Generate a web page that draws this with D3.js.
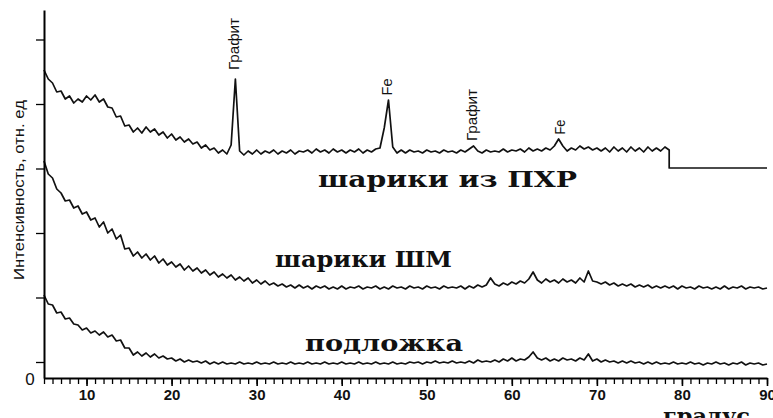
<!DOCTYPE html>
<html>
<head>
<meta charset="utf-8">
<script src="https://cdn.jsdelivr.net/npm/d3@7"></script>
<style>
  html, body { margin: 0; padding: 0; background: #fff; overflow: hidden; }
  svg { display: block; }
</style>
</head>
<body>
<div id="chart"></div>
<script>
// scan: 2theta from 5 deg, step 0.5 deg
const scanStart = 5;
const scanStep = 0.5;

// шарики из ПХР (5 .. 78.5 deg)
const pkhr = [
  308, 299, 295, 286, 287, 279, 282, 275, 279, 276,
  282, 278, 283, 276, 279, 271, 270, 261, 262, 252,
  253, 246, 250, 245, 251, 246, 249, 243, 246, 240,
  244, 238, 241, 236, 239, 234, 236, 230, 233, 228,
  230, 225, 228, 224, 233, 299,
  227, 223, 227, 224, 228, 224, 227, 225, 228, 224,
  227, 225, 228, 224, 227, 226, 228, 225, 229, 226,
  228, 225, 229, 226, 228, 225, 228, 226, 229, 225,
  228, 226, 229, 230, 250, 278,
  231, 225, 228, 225, 228, 226, 227, 225, 228, 226,
  227, 225, 228, 226, 227, 225, 228, 226, 229, 232,
  227, 225, 228, 226, 227, 226, 229, 226, 228, 227,
  229, 226, 230, 227, 229, 227, 230, 228, 232, 239,
  232, 227, 230, 228, 232, 229, 231, 228, 230, 227,
  230, 226, 231, 227, 230, 226, 231, 227, 230, 226,
  231, 227, 230, 227, 231, 228
];
// detector tail after the step at 78.5 deg
const pkhrTailAngles = [78.5, 90];
const pkhrTailValues = [210, 210];

// шарики ШМ (5 .. 90 deg)
const shm = [
  217, 204, 200, 189, 185, 177, 178, 170, 172, 164,
  166, 158, 160, 151, 156, 145, 149, 139, 143, 129,
  130, 122, 126, 120, 124, 118, 122, 115, 119, 113,
  116, 111, 114, 108, 112, 107, 110, 105, 108, 103,
  106, 101, 104, 100, 103, 98, 101, 97, 100, 95,
  98, 94, 97, 93, 95, 92, 94, 91, 93, 90,
  93, 90, 92, 89, 92, 90, 92, 89, 91, 89,
  92, 89, 91, 90, 92, 89, 91, 90, 92, 89,
  91, 89, 92, 90, 91, 89, 92, 90, 91, 89,
  92, 90, 91, 89, 92, 90, 91, 90, 92, 89,
  92, 90, 93, 91, 93, 100, 94, 92, 95, 93,
  96, 94, 97, 95, 99, 106, 98, 95, 99, 96,
  98, 95, 99, 96, 98, 95, 100, 96, 107, 97,
  96, 94, 96, 93, 95, 92, 94, 92, 94, 91,
  93, 91, 93, 90, 92, 90, 92, 90, 92, 89,
  92, 90, 91, 89, 92, 90, 91, 89, 91, 89,
  92, 89, 91, 90, 92, 89, 91, 90, 91, 89,
  90
];

// подложка (5 .. 90 deg)
const substrate = [
  83, 74, 73, 65, 66, 59, 60, 54, 53, 48,
  50, 45, 47, 43, 46, 41, 43, 37, 38, 30,
  30, 23, 26, 22, 25, 21, 24, 20, 22, 19,
  20, 17, 19, 16, 18, 16, 17, 15, 17, 14,
  16, 14, 16, 14, 15, 14, 16, 14, 15, 14,
  16, 14, 15, 14, 16, 14, 15, 14, 16, 14,
  15, 14, 16, 14, 15, 14, 16, 14, 15, 14,
  16, 14, 15, 14, 16, 14, 15, 14, 16, 14,
  15, 14, 16, 14, 15, 14, 16, 15, 16, 14,
  16, 15, 17, 15, 16, 15, 17, 15, 16, 15,
  17, 15, 18, 16, 17, 16, 18, 16, 19, 17,
  20, 17, 19, 18, 21, 26, 20, 18, 20, 17,
  19, 17, 20, 18, 19, 17, 20, 18, 24, 17,
  19, 16, 18, 16, 17, 15, 17, 15, 17, 15,
  16, 14, 16, 14, 16, 14, 15, 14, 16, 14,
  15, 14, 16, 14, 15, 13, 15, 14, 16, 14,
  15, 13, 15, 14, 16, 13, 15, 14, 15, 13,
  14
];

const xMajorTicks = [10, 20, 30, 40, 50, 60, 70, 80, 90];
const yTicks = [16, 80.5, 145, 209.5, 274, 338.5];

const peakNames = ['Графит', 'Fe', 'Графит', 'Fe'];
const peakAngles = [27.3, 45.3, 55.3, 65.6];

const width = 773;
const height = 418;

const svg = d3.select('#chart')
    .append('svg')
    .attr('width', width)
    .attr('height', height);

const x = d3.scaleLinear().domain([5, 90]).range([44, 767]);
const y = d3.scaleLinear().domain([0, 368]).range([378, 10]);

const toPoints = (vals) => vals.map((v, i) => [scanStart + i * scanStep, v]);

const line = d3.line()
    .x((d) => x(d[0]))
    .y((d) => y(d[1]));

const tail = pkhrTailAngles.map((a, i) => [a, pkhrTailValues[i]]);
const series = [
  toPoints(pkhr).concat(tail),
  toPoints(shm),
  toPoints(substrate),
];

svg.selectAll('path.trace')
    .data(series)
    .enter().append('path')
    .attr('class', 'trace')
    .attr('d', line)
    .attr('fill', 'none')
    .attr('stroke', '#111')
    .attr('stroke-width', 1.7)
    .attr('stroke-linejoin', 'round');

// axes
const xMinor = svg.append('g')
    .attr('transform', `translate(0,${y(0)})`)
    .call(d3.axisBottom(x).tickValues(d3.range(5, 91, 1))
        .tickSize(6).tickSizeOuter(0).tickFormat(''));
xMinor.select('.domain').attr('stroke-width', 2);
xMinor.selectAll('.tick line').attr('stroke-width', 1.3);

const xMajor = svg.append('g')
    .attr('transform', `translate(0,${y(0)})`)
    .call(d3.axisBottom(x).tickValues(xMajorTicks)
        .tickSize(8).tickSizeOuter(0).tickPadding(3));
xMajor.select('.domain').remove();
xMajor.selectAll('.tick line').attr('stroke-width', 1.6);
xMajor.selectAll('text')
    .attr('font-family', 'Liberation Sans, Arial, sans-serif')
    .attr('font-weight', 'bold')
    .attr('font-size', 15)
    .attr('fill', '#111');

const yAxis = svg.append('g')
    .attr('transform', `translate(${x(5)},0)`)
    .call(d3.axisLeft(y).tickValues(yTicks)
        .tickSize(8).tickSizeOuter(0).tickFormat(''));
yAxis.select('.domain').attr('stroke-width', 2);
yAxis.selectAll('.tick line').attr('stroke-width', 1.3);

svg.append('text')
    .attr('x', 30).attr('y', 385)
    .attr('text-anchor', 'middle')
    .attr('font-family', 'Liberation Sans, Arial, sans-serif')
    .attr('font-size', 17)
    .attr('fill', '#111')
    .text('0');

svg.append('text')
    .attr('transform', 'translate(19,190) rotate(-90)')
    .attr('text-anchor', 'middle')
    .attr('dy', '0.35em')
    .attr('font-family', 'Liberation Sans Narrow, Liberation Sans, sans-serif')
    .attr('font-size', 15)
    .attr('textLength', 180)
    .attr('lengthAdjust', 'spacingAndGlyphs')
    .attr('fill', '#111')
    .text('Интенсивность, отн. ед');

svg.append('text')
    .attr('x', 663).attr('y', 424)
    .attr('font-family', 'DejaVu Serif, serif')
    .attr('font-weight', 'bold')
    .attr('font-size', 22)
    .attr('textLength', 87)
    .attr('lengthAdjust', 'spacingAndGlyphs')
    .attr('fill', '#111')
    .text('градус');

// sample names
const names = [
  {text: 'шарики  из  ПХР', x: 318, y: 187, len: 259},
  {text: 'шарики  ШМ', x: 275, y: 267, len: 177},
  {text: 'подложка', x: 305, y: 351, len: 158},
];
svg.selectAll('text.name')
    .data(names)
    .enter().append('text')
    .attr('class', 'name')
    .attr('x', (d) => d.x)
    .attr('y', (d) => d.y)
    .attr('font-family', 'DejaVu Serif, serif')
    .attr('font-weight', 'bold')
    .attr('font-size', 23)
    .attr('textLength', (d) => d.len)
    .attr('lengthAdjust', 'spacingAndGlyphs')
    .attr('fill', '#111')
    .text((d) => d.text);

// peak labels
const labelCenters = [44, 87, 115, 127];
const labelLengths = [52, 17, 52, 15];
svg.selectAll('text.peak')
    .data(peakNames)
    .enter().append('text')
    .attr('class', 'peak')
    .attr('transform', (d, i) =>
      `translate(${x(peakAngles[i])},${labelCenters[i]}) rotate(-90)`)
    .attr('text-anchor', 'middle')
    .attr('dy', '0.35em')
    .attr('font-family', 'Liberation Sans Narrow, Liberation Sans, sans-serif')
    .attr('font-size', 15)
    .attr('textLength', (d, i) => labelLengths[i])
    .attr('lengthAdjust', 'spacingAndGlyphs')
    .attr('fill', '#111')
    .text((d) => d);
</script>
</body>
</html>
